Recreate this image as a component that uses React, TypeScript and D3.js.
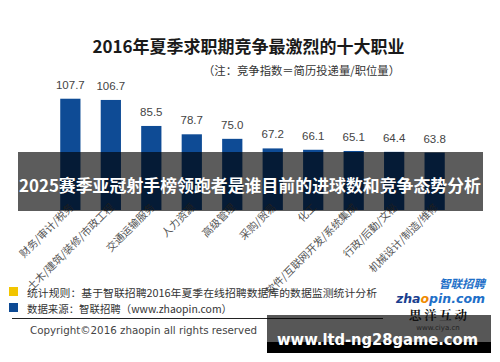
import * as React from 'react';
import * as d3 from 'd3';

const categories = [
  '财务/审计/税务',
  '土木/建筑/装修/市政工程',
  '交通运输服务',
  '人力资源',
  '高级管理',
  '采购/贸易',
  '化工',
  '软件/互联网开发/系统集成',
  '行政/后勤/文秘',
  '机械设计/制造/维修',
];
const values = [107.7, 106.7, 85.5, 78.7, 75.0, 67.2, 66.1, 65.1, 64.4, 63.8];

const title = '2016年夏季求职期竞争最激烈的十大职业';
const subtitle = '（注：竞争指数＝简历投递量/职位量）';
const bannerText = '2025赛季亚冠射手榜领跑者是谁目前的进球数和竞争态势分析';
const legendItems = [
  { color: '#f2c500', label: '统计规则：基于智联招聘2016年夏季在线招聘数据库的数据监测统计分析', len: 350 },
  { color: '#0d4a94', label: '数据来源：智联招聘（www.zhaopin.com）', len: 205 },
];
const copyright = 'Copyright©2016 zhaopin all rights reserved';
const siteText = 'www.ltd-ng28game.com';

const W = 500;
const H = 362;
const CJK = '"Noto Sans CJK SC", "Noto Sans", sans-serif';
const SANS = '"Liberation Sans", Arial, sans-serif';

export default function App() {
  const x = d3.scaleBand<string>()
    .domain(categories)
    .range([40, 465])
    .paddingInner(0.5)
    .paddingOuter(0.5);
  const y = d3.scaleLinear().domain([17, 110]).range([210, 95.9]);
  const fmt = d3.format('.1f');

  return (
    <div style={{ position: 'fixed', left: 0, top: 0 }}>
      <svg width={W} height={H} viewBox={`0 0 ${W} ${H}`} style={{ display: 'block', background: '#fff' }}>
        <rect width={W} height={H} fill="#fff" />
        <text x={248.5} y={45} textAnchor="middle" dominantBaseline="central"
          fontFamily={CJK} fontWeight="bold" fontSize={17} fill="#1a1a1a">{title}</text>
        <text x={203} y={70} dominantBaseline="central" fontFamily={CJK} fontSize={11.5} fill="#333"
          textLength={197} lengthAdjust="spacingAndGlyphs">{subtitle}</text>

        {categories.map((c, i) => (
          <g key={c}>
            <rect x={x(c)} y={y(values[i])} width={x.bandwidth()} height={y(17) - y(values[i])} fill="#0e4b95" />
            <text x={(x(c) ?? 0) + x.bandwidth() / 2} y={y(values[i]) - 10} textAnchor="middle"
              fontFamily={SANS} fontSize={11.5} fill="#444">{fmt(values[i])}</text>
            <text transform={`translate(${(x(c) ?? 0) + x.bandwidth() / 2 + 4},${208}) rotate(-45)`}
              textAnchor="end" fontFamily={CJK} fontSize={10.5} fill="#555">{c}</text>
          </g>
        ))}

        <rect x={18} y={152} width={465} height={59} fill="#000" fillOpacity={0.64} />
        <text x={250} y={185} textAnchor="middle" dominantBaseline="central" fontFamily={CJK}
          fontWeight="bold" fontSize={16.5} fill="#fff" textLength={462} lengthAdjust="spacingAndGlyphs">{bannerText}</text>

        {legendItems.map((d, i) => (
          <g key={d.label}>
            <rect x={9} y={287 + i * 16} width={9} height={9} fill={d.color} />
            <text x={27} y={292 + i * 16} dominantBaseline="central" fontFamily={CJK} fontSize={10.5} fill="#333"
              textLength={d.len} lengthAdjust="spacingAndGlyphs">{d.label}</text>
          </g>
        ))}
        <line x1={12} x2={383} y1={318.5} y2={318.5} stroke="#222" strokeWidth={1} />
        <text x={30} y={330} dominantBaseline="central" fontFamily='"DejaVu Sans", sans-serif' fontSize={10.5} fill="#444"
          textLength={227} lengthAdjust="spacingAndGlyphs">{copyright}</text>

        <text x={485} y={287.5} textAnchor="end" fontFamily={CJK} fontWeight="bold" fontStyle="italic" fontSize={11.5} fill="#1e6fc8">智联招聘</text>
        <text x={485} y={302.5} textAnchor="end" fontFamily='"DejaVu Sans", sans-serif' fontWeight="bold" fontStyle="italic" fontSize={12.5}>
          <tspan fill="#1b3f8f">zha</tspan><tspan fill="#f08a00">o</tspan><tspan fill="#1e6fc8">pin.com</tspan>
        </text>

        <rect x={267} y={315} width={224} height={27} fill="#000" fillOpacity={0.66} />
        <rect x={267} y={342} width={224} height={11} fill="#000" />
        <text x={438} y={315} textAnchor="middle" dominantBaseline="central" fontFamily='"Noto Serif CJK SC", "Noto Sans CJK SC", serif'
          fontWeight="bold" fontSize={12.5} fill="#111" textLength={58}>思洋互动</text>
        <text x={438} y={327.5} textAnchor="middle" dominantBaseline="central" fontFamily='"DejaVu Sans", sans-serif' fontSize={7} fill="#222">www.ciya.cn</text>
        <text x={377.5} y={344.5} textAnchor="middle" fontFamily='"DejaVu Sans", sans-serif'
          fontWeight="bold" fontSize={15.5} fill="#fff" textLength={201} lengthAdjust="spacingAndGlyphs">{siteText}</text>
      </svg>
    </div>
  );
}
